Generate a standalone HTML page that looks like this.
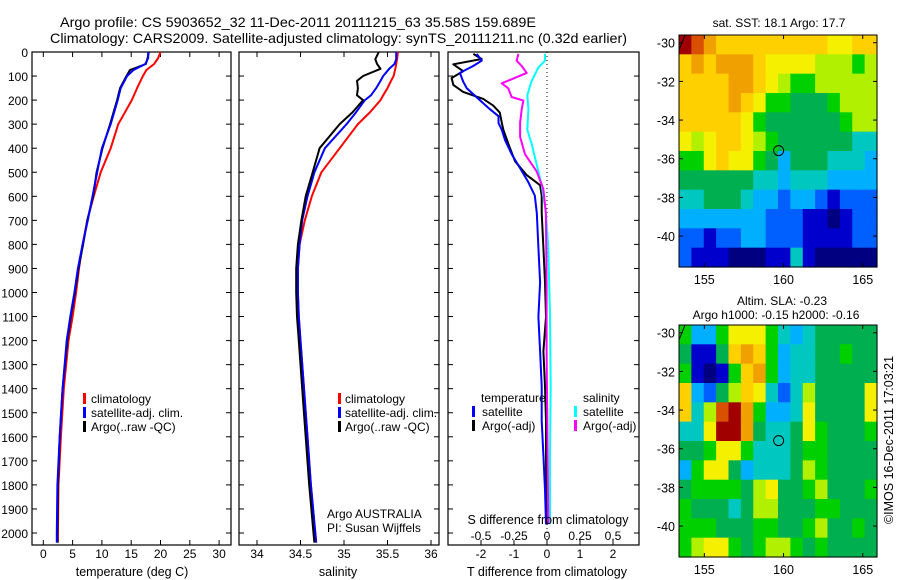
<!DOCTYPE html>
<html><head><meta charset="utf-8"><style>
html,body{margin:0;padding:0;background:#fff;}
svg{display:block;font-family:"Liberation Sans",sans-serif;}
text{fill:#000;}
</style></head><body>
<svg id="fig" width="900" height="580" viewBox="0 0 900 580" xmlns="http://www.w3.org/2000/svg">
<text x="60" y="27" font-size="14" textLength="476" lengthAdjust="spacingAndGlyphs">Argo profile: CS 5903652_32 11-Dec-2011 20111215_63 35.58S 159.689E</text>
<text x="50" y="43" font-size="14" textLength="577" lengthAdjust="spacingAndGlyphs">Climatology: CARS2009. Satellite-adjusted climatology: synTS_20111211.nc (0.32d earlier)</text>
<g id="g"></g>
</svg>
<script>
// ---- data ----
const tempDepth = [0,25,50,75,100,150,200,300,400,500,600,700,800,900,1000,1100,1200,1400,1600,1800,2000,2040];
const tempClim  = [20.0,19.6,18.9,17.6,17.0,16.0,15.1,12.8,11.5,9.8,8.6,7.5,6.7,6.1,5.6,5.0,4.3,3.5,3.0,2.6,2.5,2.5];
const tempSat   = [17.9,17.9,17.4,15.4,14.3,13.2,12.7,11.5,10.0,9.2,8.4,7.6,6.7,5.9,5.3,4.6,4.0,3.3,2.8,2.4,2.3,2.3];
const tempArgo  = [18.0,17.8,17.5,14.8,14.2,13.1,12.6,11.4,10.1,9.1,8.5,7.5,6.8,6.0,5.4,4.7,4.1,3.3,2.8,2.5,2.4,2.4];
const salDepth = [0,30,50,70,100,120,150,180,200,250,300,400,500,600,700,800,900,1000,1100,1200,1400,1600,1800,2000,2040];
const salClim  = [35.62,35.61,35.60,35.59,35.57,35.54,35.50,35.45,35.42,35.30,35.16,34.95,34.74,34.63,34.55,34.49,34.47,34.47,34.48,34.50,34.54,34.58,34.62,34.67,34.68];
const salSat   = [35.60,35.60,35.58,35.52,35.45,35.42,35.37,35.31,35.24,35.14,35.03,34.78,34.66,34.58,34.52,34.49,34.47,34.47,34.48,34.50,34.54,34.58,34.62,34.67,34.68];
const salArgo  = [35.40,35.36,35.38,35.42,35.22,35.15,35.16,35.15,35.22,35.10,34.95,34.72,34.64,34.56,34.51,34.47,34.45,34.45,34.46,34.48,34.52,34.56,34.60,34.65,34.66];
const dtSatDepth = [8,36,58,87,123,151,195,238,267,295,324,367,425,482,540,597,669,813,957,1101,1245,1389,1533,1676,1820,1964];
const dtSat      = [-2.13,-1.98,-2.23,-2.64,-2.54,-2.43,-2.08,-1.73,-1.47,-1.47,-1.37,-1.27,-1.07,-0.82,-0.57,-0.37,-0.31,-0.26,-0.21,-0.26,-0.21,-0.16,-0.16,-0.11,-0.06,-0.03];
const dtArgoDepth = [8,29,51,80,108,137,166,195,223,252,295,324,382,454,511,554,597,669,813,957,1101,1245,1389,1533,1676,1964];
const dtArgo      = [-2.23,-1.98,-2.84,-2.54,-2.89,-2.84,-2.54,-1.93,-1.63,-1.43,-1.37,-1.32,-1.17,-0.97,-0.62,-0.21,-0.16,-0.16,-0.11,-0.06,-0.03,-0.11,-0.06,-0.03,-0.03,-0.01];
const dsSatDepth = [8,36,65,123,180,238,324,382,468,554,669,813,1101,1389,1676,1964];
const dsSat      = [-0.015,-0.015,-0.066,-0.118,-0.149,-0.141,-0.149,-0.116,-0.078,-0.040,-0.008,0.010,0.023,0.028,0.023,0.023];
const dsArgoDepth = [8,36,58,87,116,130,151,187,202,238,295,353,425,497,569,669,957,1245,1533,1964];
const dsArgo      = [-0.217,-0.23,-0.192,-0.154,-0.28,-0.343,-0.293,-0.268,-0.179,-0.192,-0.204,-0.204,-0.167,-0.078,-0.028,-0.008,-0.003,-0.003,0.002,0.010];
const depthTicks = [0,100,200,300,400,500,600,700,800,900,1000,1100,1200,1300,1400,1500,1600,1700,1800,1900,2000];
const tempTicks = [0,5,10,15,20,25,30];
const salTicks = [34,34.5,35,35.5,36];
const dtTicks = [-2,-1,0,1,2];
const dsTicks = [-0.5,-0.25,0,0.25,0.5];
const dsTickLabels = ['-0.5','-0.25','0','0.25','0.5'];
const lonTicks = [155,160,165];
const latTicks = [-30,-32,-34,-36,-38,-40];
const sstGrid = [
"cba9999999998899",
"9a9aaa9888877767",
"9999aa9876677777",
"9999a98665556777",
"9999986555555677",
"8789987655555544",
"6689886535554443",
"5555554434443333",
"4455543323321222",
"3333333222110122",
"2212233222111122",
"2111000114100000"];
const slaGrid = [
"6336888643455555",
"51159a9634455655",
"610169a634455555",
"9325798424755558",
"947bca6334855558",
"448cca5445865556",
"5568864445665555",
"3688534445765555",
"5666657855675556",
"6555457755566555",
"6665556655675565",
"6788656776565555"];
const argoLon = 159.689, argoLat = -35.58;

// ---- helpers ----
const NS='http://www.w3.org/2000/svg';
const G=document.getElementById('g');
function mk(tag,attrs,parent){const e=document.createElementNS(NS,tag);for(const k in attrs)e.setAttribute(k,attrs[k]);(parent||G).appendChild(e);return e;}
function txt(s,x,y,size,anchor,parent){const t=mk('text',{x:x,y:y,'font-size':size,'text-anchor':anchor||'start'},parent);t.textContent=s;return t;}

const TOP=52, BOT=545;
const yD = d => TOP + d*0.2405;
const xT = t => 43.3 + 5.86*t;
const xS = s => 257 + 87*(s-34);
const xDT = t => 547 + 33*t;
const xDS = s => 547 + 132*s;

function panel(name,x0,x1){
  const g=mk('g',{});
  
  
  const r=mk('rect',{x:x0,y:TOP,width:x1-x0,height:BOT-TOP,fill:'#fff',stroke:'#000','stroke-width':1.2},g);
  
  
  depthTicks.forEach(d=>{const y=yD(d);
    mk('line',{x1:x0,y1:y,x2:x0+5,y2:y,stroke:'#000'},g);
    mk('line',{x1:x1,y1:y,x2:x1-5,y2:y,stroke:'#000'},g);});
  return g;
}
function xticks(g,vals,labels,fx,yl,withTop){
  vals.forEach((v,i)=>{const x=fx(v);
    mk('line',{x1:x,y1:BOT,x2:x,y2:BOT-5,stroke:'#000'},g);
    if(withTop) mk('line',{x1:x,y1:TOP,x2:x,y2:TOP+5,stroke:'#000'},g);
    if(yl!==null){const t=txt(labels[i],x,yl,12,'middle',g);
      
      }
  });
}
function series(g,name,depths,vals,fx,color,w){
  const pts=depths.map((dp,i)=>fx(vals[i]).toFixed(1)+','+yD(dp).toFixed(1)).join(' ');
  const p=mk('polyline',{points:pts,fill:'none',stroke:color,'stroke-width':w||2,'stroke-linejoin':'round'},g);
  
  
}
function legendBar(g,x,y,color){mk('rect',{x:x,y:y-10,width:3,height:11,fill:color},g);}

// ---- panel 1: temperature ----
const p1=panel('temperature-panel',32,231);
depthTicks.forEach(d=>{const t=txt(String(d),28,yD(d)+5,12,'end',p1);
  
  });
xticks(p1,tempTicks,tempTicks.map(String),xT,558,true);
series(p1,'temp-climatology-line',tempDepth,tempClim,xT,'#f00');
series(p1,'temp-argo-line',tempDepth,tempArgo,xT,'#000');
series(p1,'temp-satellite-line',tempDepth,tempSat,xT,'#00f');
const l1=mk('g',{},p1);


legendBar(l1,83,403,'#f00');txt('climatology',91,403,12,'start',l1);
legendBar(l1,83,417,'#00f');txt('satellite-adj. clim.',91,417,12,'start',l1);
legendBar(l1,83,431,'#000');txt('Argo(..raw -QC)',91,431,12,'start',l1);
const xt1=txt('temperature (deg C)',132,576,12.5,'middle',p1);



// ---- panel 2: salinity ----
const p2=panel('salinity-panel',239,439);
xticks(p2,salTicks,['34','34.5','35','35.5','36'],xS,558,true);
series(p2,'sal-climatology-line',salDepth,salClim,xS,'#f00');
series(p2,'sal-satellite-line',salDepth,salSat,xS,'#00f');
series(p2,'sal-argo-line',salDepth,salArgo,xS,'#000');
const l2=mk('g',{},p2);


legendBar(l2,338,403,'#f00');txt('climatology',345,403,12,'start',l2);
legendBar(l2,338,417,'#00f');txt('satellite-adj. clim.',345,417,12,'start',l2);
legendBar(l2,338,431,'#000');txt('Argo(..raw -QC)',345,431,12,'start',l2);
const ag=txt('Argo AUSTRALIA',327,518,12,'start',p2);


const pi=txt('PI: Susan Wijffels',327,532,12,'start',p2);


const xt2=txt('salinity',338,576,12.5,'middle',p2);



// ---- panel 3: differences ----
const p3=panel('difference-panel',448,639);
xticks(p3,dtTicks,dtTicks.map(String),xDT,558,false);
const zl=mk('line',{x1:xDT(0),y1:TOP,x2:xDT(0),y2:BOT,stroke:'#000','stroke-dasharray':'1,3'},p3);


series(p3,'dt-argo-line',dtArgoDepth,dtArgo,xDT,'#000');
series(p3,'dt-satellite-line',dtSatDepth,dtSat,xDT,'#00f');
series(p3,'ds-satellite-line',dsSatDepth,dsSat,xDS,'#0ff');
series(p3,'ds-argo-line',dsArgoDepth,dsArgo,xDS,'#f0f');
dsTicks.forEach((v,i)=>{const t=txt(dsTickLabels[i],xDS(v),540,12,'middle',p3);
  
  });
const sdt=txt('S difference from climatology',548,524,12.5,'middle',p3);


const tdt=txt('T difference from climatology',547,576,12.5,'middle',p3);


const l3=mk('g',{},p3);


txt('temperature',481,402,12,'start',l3);
legendBar(l3,472,416,'#00f');txt('satellite',482,416,12,'start',l3);
legendBar(l3,472,430,'#000');txt('Argo(-adj)',482,430,12,'start',l3);
txt('salinity',583,402,12,'start',l3);
legendBar(l3,574,416,'#0ff');txt('satellite',583,416,12,'start',l3);
legendBar(l3,574,430,'#f0f');txt('Argo(-adj)',583,430,12,'start',l3);

// ---- maps ----
const PAL={'0':'#000080','1':'#0000cc','2':'#0060ff','3':'#00b0ff','4':'#00c8c0','5':'#00b050','6':'#00d000','7':'#b0f000','8':'#f4f000','9':'#ffd000','a':'#f0a000','b':'#d85000','c':'#a00000'};
const LON0=153.4, LON1=165.9, LAT0=-29.6, LAT1=-41.6;
function map(name,top,grid,title1,title2){
  const X0=679,X1=877,Y0=top,Y1=top+232;
  const lx=v=>X0+(v-LON0)/(LON1-LON0)*(X1-X0);
  const ly=v=>Y0+(v-LAT0)/(LAT1-LAT0)*(Y1-Y0);
  const g=mk('g',{});
  
  
  const rows=grid.length, cols=grid[0].length;
  const cw=(X1-X0)/cols, ch=(Y1-Y0)/rows;
  grid.forEach((row,r)=>{for(let c=0;c<cols;c++){
    const cell=mk('rect',{x:(X0+c*cw).toFixed(2),y:(Y0+r*ch).toFixed(2),width:(cw+0.6).toFixed(2),height:(ch+0.6).toFixed(2),fill:PAL[row[c]]},g);
    
    }});
  mk('rect',{x:X0,y:Y0,width:X1-X0,height:Y1-Y0,fill:'none',stroke:'#000','stroke-width':1},g);
  mk('line',{x1:X0,y1:Y0+15,x2:X0+6,y2:Y0,stroke:'#000','stroke-width':1},g);
  lonTicks.forEach(v=>{const x=lx(v);
    mk('line',{x1:x,y1:Y1,x2:x,y2:Y1-4,stroke:'#000'},g);
    mk('line',{x1:x,y1:Y0,x2:x,y2:Y0+4,stroke:'#000'},g);
    const t=txt(String(v),x,Y1+17,12.5,'middle',g);
    
    });
  latTicks.forEach(v=>{const y=ly(v);
    mk('line',{x1:X0,y1:y,x2:X0+4,y2:y,stroke:'#000'},g);
    mk('line',{x1:X1,y1:y,x2:X1-4,y2:y,stroke:'#000'},g);
    const t=txt(String(v),X0-4,y+5,12.5,'end',g);
    
    });
  const m=mk('circle',{cx:lx(argoLon),cy:ly(argoLat),r:5,fill:'none',stroke:'#000','stroke-width':1},g);
  
  
  if(title2){
    const a=txt(title1,782,Y0-20,12,'middle',g);
    const b=txt(title2,776,Y0-6,12,'middle',g);
  } else {
    const a=txt(title1,779,Y0-8,12,'middle',g);
  }
}
map('sst-map',35,sstGrid,'sat. SST: 18.1 Argo: 17.7',null);
map('sla-map',325,slaGrid,'Altim. SLA: -0.23','Argo h1000: -0.15 h2000: -0.16');
const cp=txt('©IMOS 16-Dec-2011 17:03:21',0,0,12.5,'middle');
cp.setAttribute('transform','translate(893,440) rotate(-90)');


</script>
</body></html>
